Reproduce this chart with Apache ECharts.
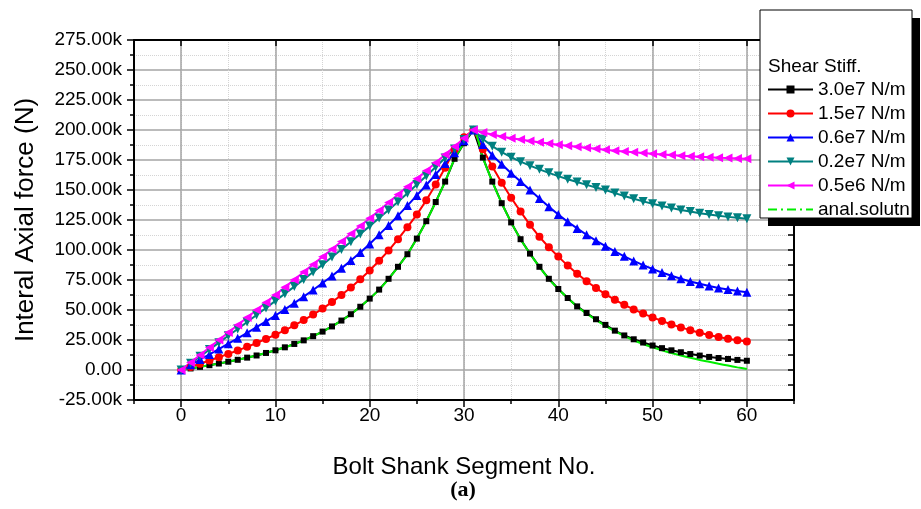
<!DOCTYPE html>
<html>
<head>
<meta charset="utf-8">
<script src="https://cdn.jsdelivr.net/npm/echarts@6/dist/echarts.min.js"></script>
<style>
  html, body { margin: 0; padding: 0; background: #fff; }
  #main { width: 921px; height: 509px; }
</style>
</head>
<body>
<div id="main"></div>
<script>
// segment numbers along the bolt shank
var segNo = [0,1,2,3,4,5,6,7,8,9,10,11,12,13,14,15,16,17,18,19,20,21,22,23,24,25,26,27,28,29,30,
             31,32,33,34,35,36,37,38,39,40,41,42,43,44,45,46,47,48,49,50,51,52,53,54,55,56,57,58,59,60];

// axial force in kN
var stiff30e7 = [0,1.3,2.6,4.0,5.4,6.9,8.5,10.3,12.1,14.2,16.4,18.9,21.7,24.7,28.2,32.0,36.3,41.2,46.5,52.7,
                 59.5,67.0,76.0,86.0,96.5,109.5,124.0,140.0,157.0,176.0,189.0,200.0,
                 177,157,139,123,109,97,86,76,67.5,60,53,47.5,42.3,37.6,32.8,28.8,25.6,22.9,20.4,
                 18.2,16.4,14.8,13.3,12.0,10.9,10.0,9.2,8.4,7.7];
var stiff15e7 = [0,2.6,5.2,7.9,10.6,13.4,16.3,19.3,22.5,25.9,29.4,33.1,37.2,41.6,46.2,51.2,56.6,62.5,68.8,75.7,
                 83.0,91.0,99.5,109.0,119.0,129.5,141.5,154.5,168.5,183.5,194.0,200,
                 184,169.5,156,143.5,132,121,111,102.3,94.5,87,80.3,74,68.3,63.2,58.5,54.3,50.5,47,43.8,
                 40.8,38,35.5,33.2,31.1,29.2,27.5,26,24.8,23.8];
var stiff06e7 = [0,4.3,8.7,13.0,17.4,21.9,26.4,31.0,35.7,40.5,45.4,50.5,55.7,61.1,66.7,72.5,78.3,84.7,91.2,97.9,
                 105.0,112.8,120.5,128.6,137.0,145.5,154.2,163.0,172.0,181.0,191.0,200,
                 188,179,171.5,164,157,150,143,136,129.5,123.5,118,112.7,107.8,103.2,98.8,94.7,90.9,87.4,84.2,
                 81.2,78.5,76,73.8,71.8,70,68.4,67,65.8,64.8];
var stiff02e7 = [0,5.7,11.4,17.0,22.8,28.5,34.2,40.0,45.8,51.7,57.6,63.5,69.5,75.5,81.6,87.8,94.1,100.4,106.8,113.3,
                 119.9,126.6,133.4,140.3,147.3,154.5,161.7,169.1,176.6,184.2,192.0,200,
                 192.5,186.5,181.5,177.3,173.6,170.3,167.2,164.3,161.6,159,156.6,154.3,152.1,150,147.4,145,142.7,140.5,138.5,
                 136.7,135,133.4,132,130.7,129.5,128.5,127.6,126.8,126.1];
var stiff05e6 = [0,6.2,12.5,18.7,25.0,31.2,37.5,43.8,50.0,56.3,62.6,68.9,75.3,81.6,88.0,94.3,100.7,107.1,113.6,120.0,
                 126.5,133.0,139.6,146.2,152.8,159.4,166.1,172.8,179.5,186.3,193.1,200,
                 198,196.2,194.6,193.2,192,190.8,189.7,188.7,187.7,186.8,186,185.2,184.4,183.6,182.8,182.1,181.4,180.8,180.2,
                 179.6,179.1,178.6,178.1,177.7,177.3,176.9,176.6,176.3,176.0];
var analSolutn = [0,1.3,2.6,4.0,5.4,6.9,8.5,10.3,12.1,14.2,16.4,18.9,21.7,24.7,28.2,32.0,36.3,41.2,46.5,52.7,
                  59.5,67.0,76.0,86.0,96.5,109.5,124.0,140.0,157.0,176.0,189.0,200.0,
                  177,157,139,123,109,97,86,76,67.5,60,53,47,41.8,36.8,32.3,28.3,24.8,21.7,19.0,
                  16.5,14.2,12.1,10.2,8.4,6.8,5.2,3.7,2.2,0.8];

var seriesNames = ['3.0e7 N/m', '1.5e7 N/m', '0.6e7 N/m', '0.2e7 N/m', '0.5e6 N/m', 'anal.solutn'];
var xMajorTicks = [0, 10, 20, 30, 40, 50, 60];

var FONT = 'Liberation Sans';

function pairs(ys) {
    var out = [];
    for (var i = 0; i < ys.length; i++) out.push([segNo[i], ys[i]]);
    return out;
}

var myChart = echarts.init(document.getElementById('main'), null, { renderer: 'canvas' });

function markerSeries(name, ys, color, symbol, size, rotate) {
    return {
        name: name,
        type: 'line',
        data: pairs(ys),
        symbol: symbol,
        symbolSize: size,
        symbolRotate: rotate || 0,
        showAllSymbol: true,
        itemStyle: { color: color },
        lineStyle: { color: color, width: 2 },
        emphasis: { disabled: true }
    };
}

myChart.setOption({
    animation: false,
    backgroundColor: '#fff',
    grid: { left: 134, right: 127, top: 40, bottom: 109 },
    legend: {
        orient: 'vertical',
        left: 762,
        top: 75,
        itemWidth: 45,
        itemHeight: 10,
        itemGap: 5,
        z: 60,
        textStyle: { fontFamily: FONT, fontSize: 19, color: '#000', lineHeight: 19 },
        data: [seriesNames[0], seriesNames[1], seriesNames[2], seriesNames[3], seriesNames[4],
               { name: seriesNames[5], itemStyle: { opacity: 0 }, lineStyle: { type: [9, 4, 2, 4] } }]
    },
    graphic: [
        { type: 'rect', z: 50, shape: { x: 768, y: 18, width: 152, height: 208 }, style: { fill: '#000' } },
        { type: 'rect', z: 51, shape: { x: 760, y: 10, width: 152, height: 208 },
          style: { fill: '#fff', stroke: '#000', lineWidth: 1 } },
        { type: 'text', z: 52, x: 768, y: 67,
          style: { text: 'Shear Stiff.', font: '19px "Liberation Sans"', fill: '#000',
                   verticalAlign: 'middle', textVerticalAlign: 'middle' } },
        { type: 'text', z: 52, x: 463, y: 490,
          style: { text: '(a)', font: 'bold 22px "Liberation Serif"', fill: '#000',
                   align: 'center', textAlign: 'center', verticalAlign: 'middle', textVerticalAlign: 'middle' } }
    ],
    xAxis: [
        {   // minor ticks + dotted grid, carries the data
            type: 'value', min: -5, max: 65, interval: 5, position: 'bottom',
            axisLine: { show: true, onZero: false, lineStyle: { color: '#000', width: 2 } },
            axisTick: { show: true, inside: false, length: 4, lineStyle: { color: '#000', width: 1.5 } },
            axisLabel: { show: false },
            splitLine: { show: true, lineStyle: { color: '#d4d4d4', width: 1, type: 'dotted' } }
        },
        {   // major ticks, labels, solid grid
            type: 'value', min: -5, max: 65, splitNumber: 7, position: 'bottom',
            axisLine: { show: false, onZero: false },
            axisTick: { show: true, inside: false, length: 7, customValues: xMajorTicks,
                        lineStyle: { color: '#000', width: 1.5 } },
            axisLabel: { show: true, customValues: xMajorTicks, margin: 6,
                         fontFamily: FONT, fontSize: 19, color: '#000' },
            splitLine: { show: true, lineStyle: { color: '#a4a4a4', width: 1.5 } },
            name: 'Bolt Shank Segment No.',
            nameLocation: 'middle',
            nameGap: 55,
            nameTextStyle: { fontFamily: FONT, fontSize: 24, color: '#000' }
        },
        {   // top frame
            type: 'value', min: -5, max: 65, splitNumber: 7, position: 'top',
            axisLine: { show: true, onZero: false, lineStyle: { color: '#000', width: 2 } },
            axisTick: { show: true, inside: true, length: 6, customValues: xMajorTicks,
                        lineStyle: { color: '#000', width: 1.5 } },
            axisLabel: { show: false },
            splitLine: { show: false }
        }
    ],
    yAxis: [
        {
            type: 'value', min: -25, max: 275, interval: 25, position: 'left',
            axisLine: { show: true, onZero: false, lineStyle: { color: '#000', width: 2 } },
            axisTick: { show: true, inside: false, length: 7, lineStyle: { color: '#000', width: 1.5 } },
            minorTick: { show: true, splitNumber: 2, length: 4, lineStyle: { color: '#000', width: 1.5 } },
            axisLabel: {
                fontFamily: FONT, fontSize: 19, color: '#000', margin: 12,
                formatter: function (v) { return v === 0 ? '0.00' : v.toFixed(2) + 'k'; }
            },
            splitLine: { show: true, lineStyle: { color: '#a4a4a4', width: 1.5 } },
            minorSplitLine: { show: true, lineStyle: { color: '#d4d4d4', width: 1, type: 'dotted' } },
            name: 'Interal Axial force (N)',
            nameLocation: 'middle',
            nameGap: 95,
            nameTextStyle: { fontFamily: FONT, fontSize: 26, color: '#000' }
        },
        {
            type: 'value', min: -25, max: 275, interval: 25, position: 'right',
            axisLine: { show: true, onZero: false, lineStyle: { color: '#000', width: 2 } },
            axisTick: { show: true, inside: true, length: 6, lineStyle: { color: '#000', width: 1.5 } },
            minorTick: { show: true, splitNumber: 2, length: 6, lineStyle: { color: '#000', width: 1.5 } },
            axisLabel: { show: false },
            splitLine: { show: false }
        }
    ],
    series: [
        markerSeries(seriesNames[0], stiff30e7, '#000000', 'rect', 6),
        markerSeries(seriesNames[1], stiff15e7, '#ff0000', 'circle', 8),
        markerSeries(seriesNames[2], stiff06e7, '#0000ff', 'triangle', 9),
        markerSeries(seriesNames[3], stiff02e7, '#008080', 'triangle', 9, 180),
        markerSeries(seriesNames[4], stiff05e6, '#ff00ff', 'triangle', 9, 90),
        {
            name: seriesNames[5],
            type: 'line',
            data: pairs(analSolutn),
            symbol: 'none',
            smooth: 0.3,
            itemStyle: { color: '#00ee00' },
            lineStyle: { color: '#00ee00', width: 2 },
            emphasis: { disabled: true }
        }
    ]
});
window.onresize = myChart.resize;
</script>
</body>
</html>
